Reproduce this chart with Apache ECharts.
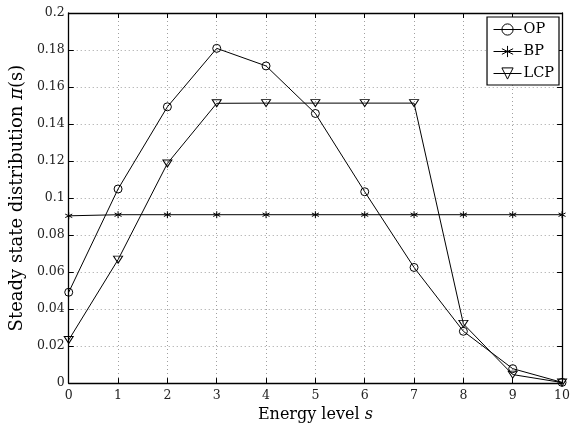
<!DOCTYPE html>
<html>
<head>
<meta charset="utf-8">
<script src="https://cdn.jsdelivr.net/npm/echarts@6/dist/echarts.min.js"></script>
<style>
  html, body { margin: 0; padding: 0; background: #fff; }
  #chart { width: 573px; height: 428px; }
</style>
</head>
<body>
<div id="chart"></div>
<script>
// Energy levels and steady state distributions for each policy
const levels = ['0', '1', '2', '3', '4', '5', '6', '7', '8', '9', '10'];
const opValues = [0.0491, 0.1049, 0.1493, 0.1809, 0.1714, 0.1457, 0.1034, 0.0625, 0.028, 0.0078, 0.0004];
const bpValues = [0.0904, 0.0910, 0.0910, 0.0910, 0.0910, 0.0910, 0.0910, 0.0910, 0.0910, 0.0910, 0.0910];
const lcpValues = [0.0233, 0.0667, 0.1187, 0.1512, 0.1513, 0.1513, 0.1513, 0.1513, 0.032, 0.0046, 0.0003];
const yTicks = ['0', '0.02', '0.04', '0.06', '0.08', '0.1', '0.12', '0.14', '0.16', '0.18', '0.2'];

const FONT = '"DejaVu Serif", "Liberation Serif", serif';
const asterisk = 'path://M0,-1L0,1M-0.87,-0.5L0.87,0.5M-0.87,0.5L0.87,-0.5';

const chart = echarts.init(document.getElementById('chart'), null, { renderer: 'canvas' });

const gridLine = { show: true, lineStyle: { color: '#a0a0a0', type: [1, 3], width: 1 } };
const axisLine = { show: true, onZero: false, lineStyle: { color: '#000', width: 1.3 } };
const tickIn = { show: true, inside: true, length: 5, lineStyle: { color: '#000', width: 1 } };

function seriesOf(name, data, symbol, size, rotate) {
  return {
    name: name,
    type: 'line',
    data: data.map((v, i) => [i, v]),
    symbol: symbol,
    symbolSize: size,
    symbolRotate: rotate || 0,
    showAllSymbol: true,
    lineStyle: { color: '#000', width: 1 },
    itemStyle: { color: 'rgba(0,0,0,0)', borderColor: '#000', borderWidth: 1 },
    emphasis: { disabled: true },
    animation: false,
    z: 3
  };
}

chart.setOption({
  animation: false,
  backgroundColor: '#fff',
  grid: { left: 63, right: 6, top: 13, bottom: 39, containLabel: false },
  legend: {
    right: 14, top: 17,
    orient: 'vertical',
    backgroundColor: '#fff',
    borderColor: '#000', borderWidth: 1.2,
    padding: [5, 5, 4, 6],
    itemWidth: 28, itemHeight: 14, itemGap: 7,
    lineStyle: { width: 1 },
    itemStyle: { borderWidth: 1 },
    textStyle: { fontFamily: FONT, fontSize: 14.5, color: '#000', padding: [0, 0, 0, -3] },
    data: ['OP', 'BP', 'LCP']
  },
  xAxis: [{
    type: 'value', min: 0, max: 10, interval: 1,
    name: 'Energy level {i|s}',
    nameLocation: 'middle', nameGap: 20,
    nameTextStyle: { fontFamily: FONT, fontSize: 16, color: '#000',
      rich: { i: { fontFamily: FONT, fontSize: 16, fontStyle: 'italic', color: '#000' } } },
    axisLine: axisLine, axisTick: tickIn, splitLine: gridLine,
    axisLabel: { fontFamily: FONT, fontSize: 12.5, color: '#222', margin: 6,
      formatter: v => levels[v] }
  }, {
    type: 'value', min: 0, max: 10, interval: 1, position: 'top',
    axisLine: axisLine, axisTick: tickIn, splitLine: { show: false }, axisLabel: { show: false }
  }],
  yAxis: [{
    type: 'value', min: 0, max: 0.2, interval: 0.02,
    name: 'Steady state distribution {i|π}(s)',
    nameLocation: 'middle', nameGap: 37,
    nameTextStyle: { fontFamily: FONT, fontSize: 18, color: '#000',
      rich: { i: { fontFamily: FONT, fontSize: 18, fontStyle: 'italic', color: '#000' } } },
    axisLine: axisLine, axisTick: tickIn, splitLine: gridLine,
    axisLabel: { fontFamily: FONT, fontSize: 12.5, color: '#222', margin: 4,
      formatter: v => yTicks[Math.round(v / 0.02)] }
  }, {
    type: 'value', min: 0, max: 0.2, interval: 0.02, position: 'right',
    axisLine: axisLine, axisTick: tickIn, splitLine: { show: false }, axisLabel: { show: false }
  }],
  series: [
    seriesOf('OP', opValues, 'circle', 8),
    seriesOf('BP', bpValues, asterisk, 7),
    seriesOf('LCP', lcpValues, 'triangle', [9, 7], 180)
  ]
});
</script>
</body>
</html>
